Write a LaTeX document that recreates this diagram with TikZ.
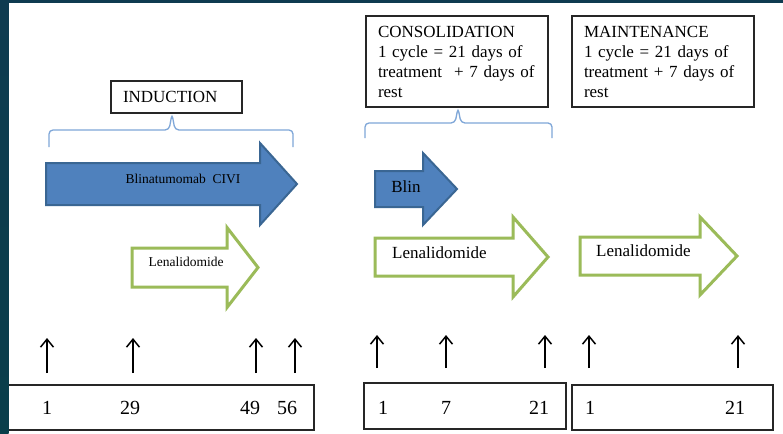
\documentclass[tikz,border=0pt]{standalone}
\usepackage{fontspec}
\setmainfont{Liberation Serif}
\usetikzlibrary{arrows.meta}

\definecolor{slideblue}{HTML}{0F3B50}
\definecolor{blinfill}{HTML}{4F81BD}
\definecolor{blinline}{HTML}{3A6693}
\definecolor{lenaline}{HTML}{9BBB59}
\definecolor{bracecol}{HTML}{7FA7D8}

\begin{document}
\begin{tikzpicture}[x=1pt,y=-1pt,
    phase/.style={draw=black!85,line width=1.2pt,inner xsep=12pt,inner ysep=0pt,
      align=left,font=\fontsize{17}{20}\selectfont},
    daybox/.style={draw=black!85,line width=1.1pt,inner sep=0pt},
    day/.style={inner sep=0pt,font=\fontsize{20}{24}\selectfont},
    blin/.style={draw=blinline,fill=blinfill,line width=2pt},
    lena/.style={draw=lenaline,fill=white,line width=3pt},
    drug/.style={inner sep=0pt,font=\fontsize{17}{20}\selectfont},
    smalldrug/.style={inner sep=0pt,font=\fontsize{13.5}{16}\selectfont},
    phasebrace/.style={draw=bracecol,line width=1.3pt,rounded corners=4pt},
    dayarrow/.style={-{Straight Barb[length=8pt,width=13pt]},line width=1.5pt}]

  % Fond
  \useasboundingbox (0,0) rectangle (783,433);
  \fill[white] (0,0) rectangle (783,433);

  % Phases
  \node[phase,text width=107,minimum height=32] (induction) at (176.5,97) {INDUCTION};
  \node[phase,text width=158,minimum height=91] (consol) at (457,61.5)
    {CONSOLIDATION\\1 cycle = 21 days of\\treatment\hspace{12pt}+ 7 days of\\rest};
  \node[phase,text width=158,minimum height=91] (maint) at (663,61.5)
    {MAINTENANCE\\1 cycle = 21 days of\\treatment + 7 days of\\rest};

  % Accolades
  \foreach \xa/\xm/\xb/\yb/\yh/\yt in {
    49/172/293/147/130/114,
    365/458/552/138/123/108
  } {
    \draw[phasebrace] (\xa,\yb) -- (\xa,\yh) -- ({\xm-3},\yh) -- (\xm,\yt)
      -- ({\xm+3},\yh) -- (\xb,\yh) -- (\xb,\yb);
  }

  % Fleches bleues (blinatumomab)
  \foreach \xa/\xb/\xc/\yc/\hb/\hh in {
    46/260/297/184/21/41,
    375/423/457/189/18/36
  } {
    \draw[blin] (\xa,{\yc-\hb}) -- (\xb,{\yc-\hb}) -- (\xb,{\yc-\hh}) -- (\xc,\yc)
      -- (\xb,{\yc+\hh}) -- (\xb,{\yc+\hb}) -- (\xa,{\yc+\hb}) -- cycle;
  }

  % Fleches vertes (lenalidomide)
  \foreach \xa/\xb/\xc/\yc/\hb/\hh in {
    132/227/258/267.5/19.5/40,
    375/513/548/257/19/40,
    580/700/737/256/19/39
  } {
    \draw[lena] (\xa,{\yc-\hb}) -- (\xb,{\yc-\hb}) -- (\xb,{\yc-\hh}) -- (\xc,\yc)
      -- (\xb,{\yc+\hh}) -- (\xb,{\yc+\hb}) -- (\xa,{\yc+\hb}) -- cycle;
  }

  \node[smalldrug] (blina) at (183,179) {Blinatumomab\ \ CIVI};
  \node[smalldrug] (lenaI) at (186,262) {Lenalidomide};
  \node[drug] (blin) at (406,187) {Blin};
  \node[drug,anchor=west] (lenaC) at (392,253) {Lenalidomide};
  \node[drug,anchor=west] (lenaM) at (596,251) {Lenalidomide};

  % Jours
  \node[daybox,minimum width=308,minimum height=45] (daysI) at (160,407.5) {};
  \node[daybox,minimum width=202,minimum height=46] (daysC) at (465,406) {};
  \node[daybox,minimum width=201,minimum height=45] (daysM) at (672.5,407.5) {};

  \foreach \x/\d in {47/1, 130/29, 250/49, 287/56, 383/1, 446/7, 539/21, 590/1, 735/21}
    \node[day] (d\x) at (\x,408) {\d};

  % Fleches vers le haut
  \foreach \x/\ya/\yb in {
    47/373/338, 133/373/338, 256/373/338, 295/373/338,
    377/368/335, 446/368/335, 545/368/335,
    589/368/335, 738/368/335
  } {
    \coordinate (tail\x) at (\x,\ya);
    \coordinate (tip\x) at (\x,\yb);
    \draw[dayarrow] (tail\x) -- (tip\x);
  }

  % Cadre
  \shade[top color=slideblue,bottom color=slideblue!85!cyan!70!black] (0,0) rectangle (8.5,433);
  \fill[slideblue] (0,0) rectangle (783,3);

\end{tikzpicture}
\end{document}
